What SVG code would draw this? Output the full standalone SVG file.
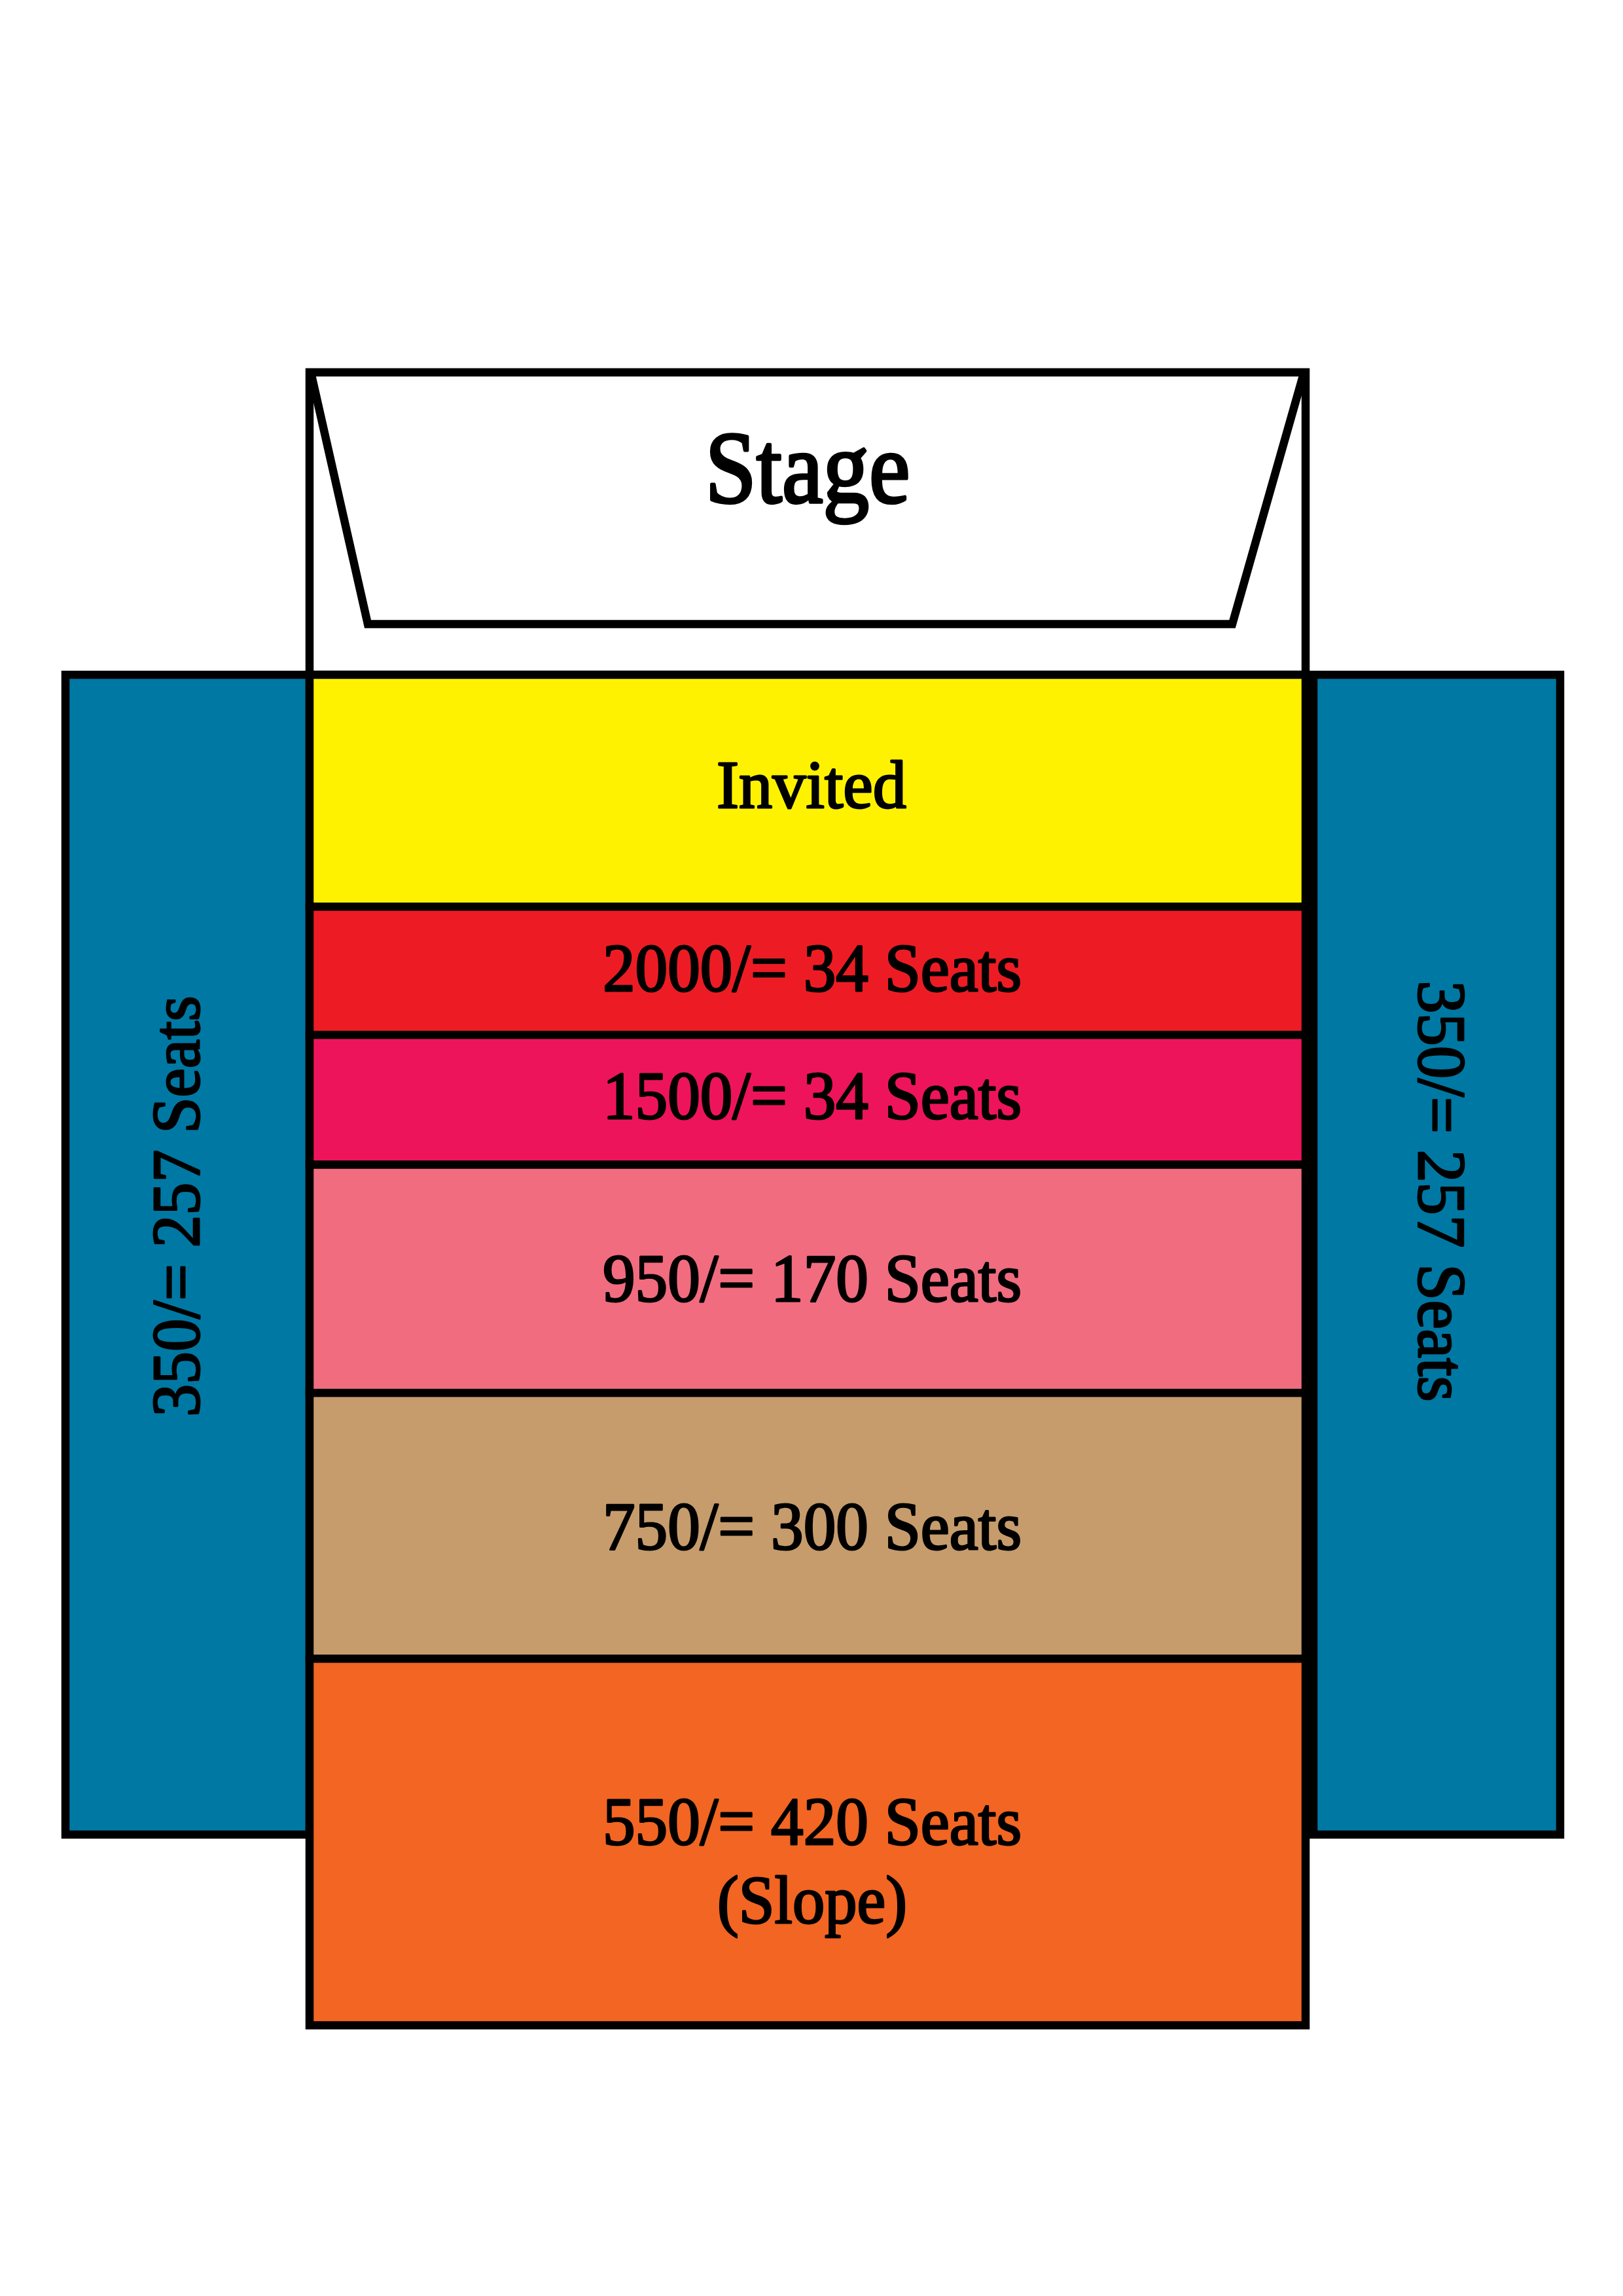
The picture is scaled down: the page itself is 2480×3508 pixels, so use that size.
<svg xmlns="http://www.w3.org/2000/svg" width="2480" height="3508" viewBox="0 0 2480 3508">
<style>
.box{stroke:#000;stroke-width:12.5;stroke-miterlimit:10}
.lbl{font-family:"Liberation Serif","Times New Roman",serif;font-size:104px;fill:#000;stroke:#000;stroke-width:3;stroke-linejoin:round;text-anchor:middle}
.big{font-size:156px;stroke-width:4.5}
</style>
<rect width="2480" height="3508" fill="#fff"/>
<g id="stage">
<rect class="box" x="473" y="569" width="1522" height="462" fill="#fff"/>
<polygon class="box" points="475,569 562,953.5 1883,953.5 1992.5,569" fill="#fff"/>
<text class="lbl big" x="1234" y="767" textLength="313" lengthAdjust="spacingAndGlyphs">Stage</text>
</g>
<g id="side-left">
<rect class="box" x="100" y="1031" width="373" height="1772" fill="#0078A4"/>
<text class="lbl" transform="translate(304,1843) rotate(-90)" x="0" y="0" textLength="643" lengthAdjust="spacingAndGlyphs">350/= 257 Seats</text>
</g>
<g id="side-right">
<rect class="box" x="2007" y="1031" width="377" height="1772" fill="#0078A4"/>
<text class="lbl" transform="translate(2168,1820) rotate(90)" x="0" y="0" textLength="643" lengthAdjust="spacingAndGlyphs">350/= 257 Seats</text>
</g>
<g id="invited">
<rect class="box" x="473" y="1031" width="1522" height="354.3" fill="#FFF200"/>
<text class="lbl" x="1240" y="1234" textLength="290" lengthAdjust="spacingAndGlyphs">Invited</text>
</g>
<g id="p2000">
<rect class="box" x="473" y="1385.3" width="1522" height="195.9" fill="#ED1C24"/>
<text class="lbl" x="1241" y="1514" textLength="640" lengthAdjust="spacingAndGlyphs">2000/= 34 Seats</text>
</g>
<g id="p1500">
<rect class="box" x="473" y="1581.2" width="1522" height="198.3" fill="#EE145B"/>
<text class="lbl" x="1241" y="1709" textLength="640" lengthAdjust="spacingAndGlyphs">1500/= 34 Seats</text>
</g>
<g id="p950">
<rect class="box" x="473" y="1779.5" width="1522" height="348.7" fill="#F16C7F"/>
<text class="lbl" x="1241" y="1988" textLength="640" lengthAdjust="spacingAndGlyphs">950/= 170 Seats</text>
</g>
<g id="p750">
<rect class="box" x="473" y="2128.2" width="1522" height="406.1" fill="#C69C6D"/>
<text class="lbl" x="1241" y="2367" textLength="640" lengthAdjust="spacingAndGlyphs">750/= 300 Seats</text>
</g>
<g id="p550">
<rect class="box" x="473" y="2534.3" width="1522" height="560.1" fill="#F26522"/>
<text class="lbl" x="1241" y="2818" textLength="640" lengthAdjust="spacingAndGlyphs">550/= 420 Seats</text>
<text class="lbl" x="1241" y="2938" textLength="290" lengthAdjust="spacingAndGlyphs">(Slope)</text>
</g>
<g id="connectors"></g>
</svg>
